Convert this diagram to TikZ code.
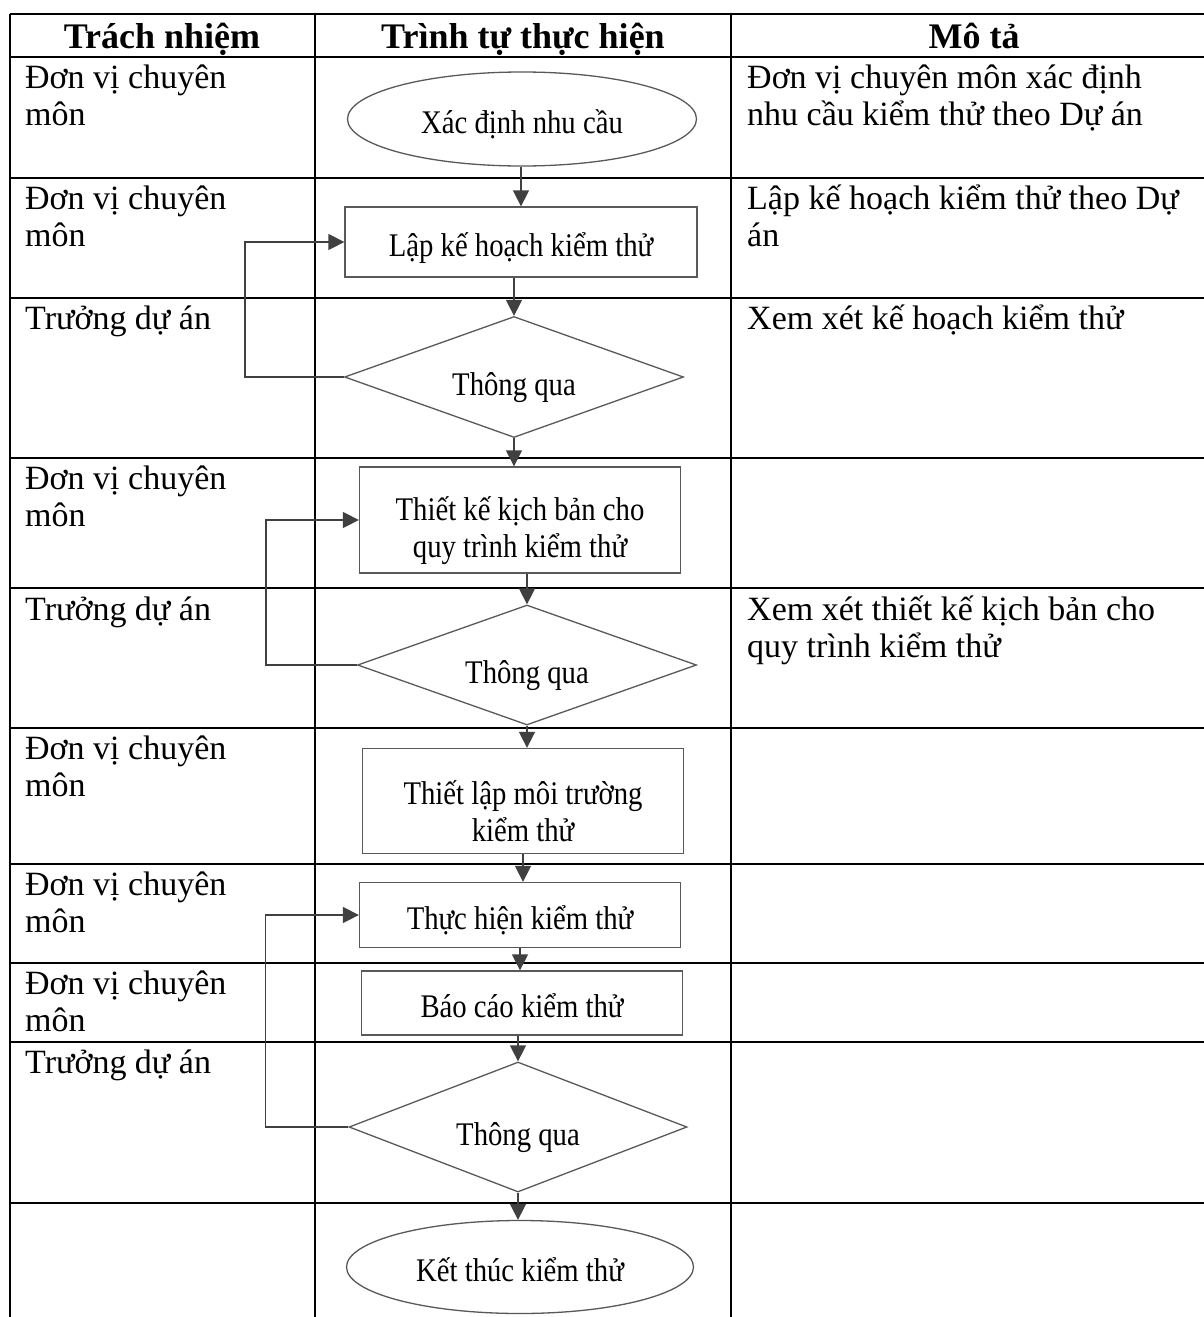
\documentclass[tikz,border=0pt]{standalone}
\usepackage{fontspec}
\setmainfont{Liberation Serif}
\newfontfamily\shapefont[FakeStretch=0.87]{Liberation Serif}
\usetikzlibrary{shapes.geometric,arrows.meta}
\newcommand{\firstlinestrut}{\rule{0pt}{45pt}}
\begin{document}
\begin{tikzpicture}[x=1pt,y=-1pt,
  tbl/.style={line width=1.6pt,black},
  celltext/.style={anchor=base west,align=left,inner sep=0pt,font=\fontsize{34}{37}\selectfont},
  headtext/.style={anchor=base,inner sep=0pt,font=\fontsize{36}{40}\selectfont\bfseries},
  shp/.style={draw=black!65,line width=1.3pt,inner sep=0pt,align=center,font=\shapefont\fontsize{33}{37}\selectfont},
  oneline/.style={text height=28pt,text depth=0pt},
  proc/.style={shp,rectangle},
  term/.style={shp,ellipse,oneline},
  dec/.style={shp,diamond,aspect=2.8,text height=36pt,text depth=0pt},
  arr/.style={draw=black!75,line width=1.5pt,-{Triangle[length=16pt,width=16pt]}},
]
\fill[white] (0,0) rectangle (1204,1317);
\useasboundingbox (0,0) rectangle (1204,1317);
\clip (0,0) rectangle (1204,1317);

% table grid
\foreach \yy in {14,57,178,298,458,588,728,864,963,1042,1203}
  \draw[tbl] (10,\yy) -- (1217,\yy);
\foreach \xx in {10,315,731,1217}
  \draw[tbl] (\xx,14) -- (\xx,1330);

% header
\node[headtext] (h1) at (162,48) {Trách nhiệm};
\node[headtext] (h2) at (523,48) {Trình tự thực hiện};
\node[headtext] (h3) at (974,48) {Mô tả};

% left column (base anchor of a two-line text is its last line)
\node[celltext] (l1) at (25,125) {Đơn vị chuyên\\môn};
\node[celltext] (l2) at (25,246) {Đơn vị chuyên\\môn};
\node[celltext] (l3) at (25,329) {Trưởng dự án};
\node[celltext] (l4) at (25,526) {Đơn vị chuyên\\môn};
\node[celltext] (l5) at (25,620) {Trưởng dự án};
\node[celltext] (l6) at (25,796) {Đơn vị chuyên\\môn};
\node[celltext] (l7) at (25,932) {Đơn vị chuyên\\môn};
\node[celltext] (l8) at (25,1031) {Đơn vị chuyên\\môn};
\node[celltext] (l9) at (25,1073) {Trưởng dự án};

% right column
\node[celltext] (m1) at (747,125) {Đơn vị chuyên môn xác định\\nhu cầu kiểm thử theo Dự án};
\node[celltext] (m2) at (747,246) {Lập kế hoạch kiểm thử theo Dự\\án};
\node[celltext] (m3) at (747,329) {Xem xét kế hoạch kiểm thử};
\node[celltext] (m5) at (747,657) {Xem xét thiết kế kịch bản cho\\quy trình kiểm thử};

% flow shapes
\node[term, minimum width=349, minimum height=94] (e1) at (522,119) {Xác định nhu cầu};
\node[proc, oneline, minimum width=352, minimum height=70] (r1) at (521,242) {Lập kế hoạch kiểm thử};
\node[dec, minimum width=339, minimum height=121] (d1) at (514,377) {Thông qua};
\node[proc, minimum width=321, minimum height=106] (r2) at (520,520) {\firstlinestrut Thiết kế kịch bản cho\\quy trình kiểm thử};
\node[dec, minimum width=339, minimum height=120] (d2) at (527,665) {Thông qua};
\node[proc, minimum width=321, minimum height=105] (r3) at (523,801) {\firstlinestrut Thiết lập môi trường\\kiểm thử};
\node[proc, oneline, minimum width=321, minimum height=65] (r4) at (520,915) {Thực hiện kiểm thử};
\node[proc, oneline, minimum width=321, minimum height=64] (r5) at (522,1003) {Báo cáo kiểm thử};
\node[dec, minimum width=338, minimum height=130] (d3) at (518,1127) {Thông qua};
\node[term, minimum width=347, minimum height=93] (e2) at (520,1267) {Kết thúc kiểm thử};

% connectors
\draw[arr] (e1.south -| r1.north) -- (r1.north);
\draw[arr] (r1.south -| d1.north) -- (d1.north);
\draw[arr] (d1.south) -- (d1.south |- r2.north);
\draw[arr] (r2.south -| d2.north) -- (d2.north);
\draw[arr] (d2.south) -- (d2.south |- r3.north);
\draw[arr] (r3.south) -- (r3.south |- r4.north);
\draw[arr] (r4.south) -- (r4.south |- r5.north);
\draw[arr] (r5.south -| d3.north) -- (d3.north);
\draw[arr] (d3.south) -- (d3.south |- e2.north);

% feedback loops
\draw[arr] (d1.west) -- ++(-99,0) |- (r1.west);
\draw[arr] (d2.west) -- ++(-91,0) |- (r2.west);
\draw[arr] (d3.west) -- ++(-83,0) |- (r4.west);
\end{tikzpicture}
\end{document}
